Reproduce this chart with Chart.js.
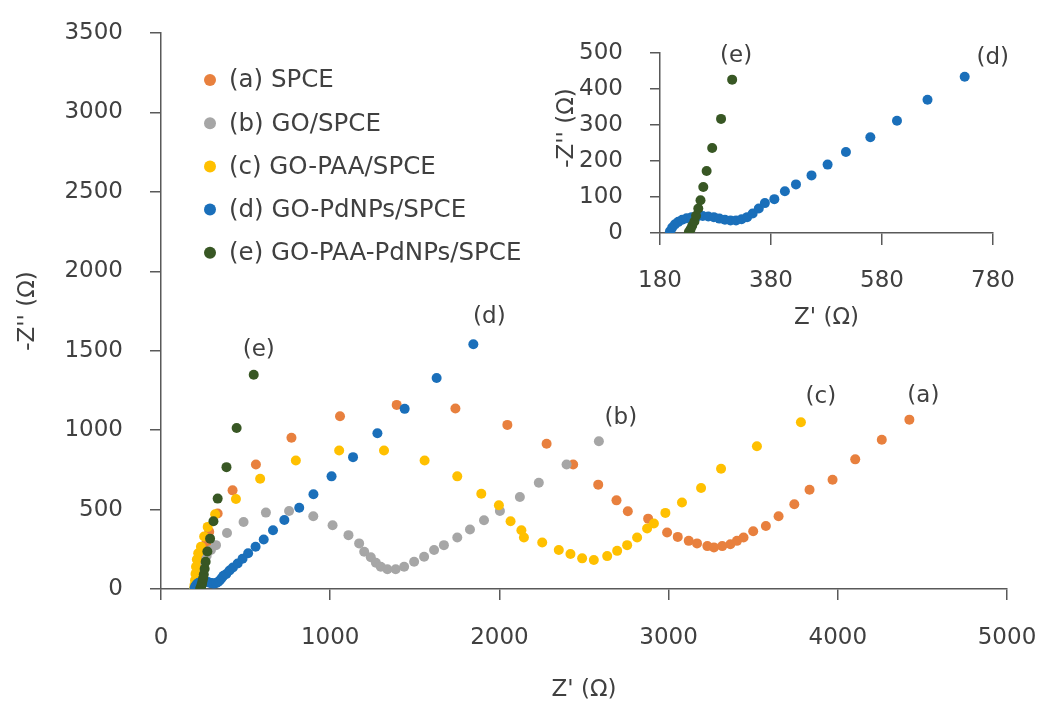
<!DOCTYPE html>
<html>
  <head>
    <title>Nyquist plot</title>
    <script src="https://cdn.jsdelivr.net/npm/chart.js@4.4.1/dist/chart.umd.min.js"></script>
    <style>
    body{
    	margin: 0;
    	background-color: white;
    }
    #wrap{ position: relative; width: 1043px; height: 715px; }
    #main{ position: absolute; left: 0; top: 0; }
    #inset{ position: absolute; left: 530px; top: 0; }
  	</style>
  </head>
  <body>

    <div id="wrap">
      <canvas id="main" width="1043" height="715"></canvas>
      <canvas id="inset" width="490" height="335"></canvas>
    </div>

  <script type="text/javascript">

  // series values, Z' and -Z'' in ohm
  var labels = ["(a) SPCE", "(b) GO/SPCE", "(c) GO-PAA/SPCE", "(d) GO-PdNPs/SPCE", "(e) GO-PAA-PdNPs/SPCE"];
  var tags = ["(a)", "(b)", "(c)", "(d)", "(e)"];
  var colors = ["#E8803E", "#A6A6A6", "#FFC000", "#1A6FBA", "#385724"];

  var a_x = [200, 204, 210, 218, 228, 240, 254, 268, 285, 335, 423, 561, 771, 1058, 1393, 1740, 2047, 2279, 2436, 2584, 2692, 2759, 2879, 2991, 3054, 3119, 3168, 3229, 3268, 3317, 3365, 3404, 3443, 3500, 3575, 3650, 3743, 3833, 3969, 4103, 4260, 4423];
  var a_y = [3, 25, 55, 90, 130, 175, 225, 290, 360, 475, 621, 784, 952, 1087, 1159, 1136, 1033, 914, 784, 657, 558, 489, 443, 356, 328, 303, 287, 270, 262, 270, 282, 303, 324, 364, 397, 458, 533, 625, 688, 816, 939, 1066];

  var b_x = [205, 210, 217, 226, 238, 252, 270, 295, 325, 390, 488, 620, 757, 900, 1014, 1108, 1171, 1201, 1240, 1270, 1299, 1338, 1387, 1437, 1496, 1555, 1614, 1672, 1751, 1826, 1909, 2003, 2121, 2233, 2397, 2588];
  var b_y = [3, 25, 55, 90, 130, 170, 210, 245, 276, 353, 422, 481, 491, 458, 401, 339, 287, 234, 200, 165, 140, 124, 124, 140, 171, 203, 245, 276, 324, 374, 433, 491, 579, 669, 784, 930];

  var c_x = [195, 198, 201, 204, 207, 212, 220, 236, 255, 276, 320, 443, 586, 797, 1053, 1318, 1558, 1751, 1893, 1997, 2066, 2130, 2145, 2253, 2351, 2420, 2489, 2558, 2637, 2696, 2755, 2814, 2873, 2913, 2981, 3079, 3192, 3310, 3522, 3782];
  var c_y = [3, 25, 55, 95, 140, 185, 225, 266, 330, 391, 470, 567, 694, 809, 872, 872, 809, 709, 600, 527, 427, 370, 324, 293, 245, 220, 193, 182, 207, 240, 276, 324, 381, 412, 479, 544, 636, 757, 899, 1050];

  var d_x = [198, 202, 207, 213, 220, 228, 237, 247, 257, 267, 277, 287, 297, 307, 317, 327, 337, 347, 358, 369, 386, 405, 425, 453, 482, 515, 559, 607, 662, 729, 817, 901, 1008, 1135, 1279, 1440, 1629, 1846];
  var d_y = [5, 15, 24, 31, 37, 41, 44, 46, 47, 46, 44, 40, 37, 35, 35, 38, 44, 54, 68, 83, 94, 116, 135, 160, 190, 225, 266, 312, 370, 434, 512, 596, 709, 830, 981, 1134, 1328, 1541];

  var e_x = [232, 235, 238, 242, 245, 249, 253, 258, 264, 274, 290, 310, 335, 387, 447, 548];
  var e_y = [3, 10, 20, 32, 48, 68, 91, 128, 172, 236, 317, 426, 569, 767, 1014, 1349];

  // axis ticks: min, max, step
  var mainXTicks = [0, 5000, 1000];
  var mainYTicks = [0, 3500, 500];
  var insetXTicks = [180, 780, 200];
  var insetYTicks = [0, 500, 100];

  var allX = [a_x, b_x, c_x, d_x, e_x];
  var allY = [a_y, b_y, c_y, d_y, e_y];

  var FONT = "'DejaVu Sans', sans-serif";
  var INK = "#404040";
  var AXIS = "#595959";
  Chart.defaults.font.family = FONT;
  Chart.defaults.color = INK;

  function points(xs, ys, xr, yr){
    var out = [];
    for (var i = 0; i < xs.length; i++){
      if (xr && (xs[i] < xr[0] || xs[i] > xr[1] || ys[i] < yr[0] || ys[i] > yr[1])) continue;
      out.push({x: xs[i], y: ys[i]});
    }
    return out;
  }

  function makeSets(which, xr, yr){
    return which.map(function(i){
      return {
        label: labels[i],
        tag: tags[i],
        data: points(allX[i], allY[i], xr, yr),
        backgroundColor: colors[i],
        borderWidth: 0,
        pointRadius: 5,
        pointHoverRadius: 5,
        order: 5 - i
      };
    });
  }

  // writes (a)..(e) next to the last point of each series
  var tagPlugin = {
    id: 'tags',
    afterDatasetsDraw: function(chart, args, opts){
      var ctx = chart.ctx;
      ctx.save();
      ctx.font = "23px " + FONT;
      ctx.fillStyle = INK;
      ctx.textAlign = 'center';
      ctx.textBaseline = 'middle';
      chart.data.datasets.forEach(function(ds, i){
        var meta = chart.getDatasetMeta(i);
        var pt = meta.data[meta.data.length - 1];
        var off = opts.offsets[i];
        ctx.fillText(ds.tag, pt.x + off[0], pt.y + off[1]);
      });
      ctx.restore();
    }
  };

  // legend inside the plot, top left
  var legendPlugin = {
    id: 'boxLegend',
    afterDraw: function(chart, args, opts){
      var ctx = chart.ctx;
      ctx.save();
      ctx.font = "24.5px " + FONT;
      ctx.textBaseline = 'middle';
      ctx.textAlign = 'left';
      chart.data.datasets.forEach(function(ds, i){
        var y = opts.y + i * opts.step;
        ctx.fillStyle = ds.backgroundColor;
        ctx.beginPath();
        ctx.arc(opts.x, y, 6, 0, Math.PI * 2);
        ctx.fill();
        ctx.fillStyle = INK;
        ctx.fillText(ds.label, opts.x + 19, y + 1);
      });
      ctx.restore();
    }
  };

  // inset y title sits a bit above the middle of its axis
  var sideTitlePlugin = {
    id: 'sideTitle',
    afterDraw: function(chart, args, opts){
      var ctx = chart.ctx;
      ctx.save();
      ctx.font = "23px " + FONT;
      ctx.fillStyle = INK;
      ctx.textAlign = 'center';
      ctx.textBaseline = 'middle';
      ctx.translate(opts.x, opts.y);
      ctx.rotate(-Math.PI / 2);
      ctx.fillText(opts.text, 0, 0);
      ctx.restore();
    }
  };

  function axis(ticks, title, titlePad, tickLen, tickPad, fixed, horiz){
    return {
      type: 'linear',
      min: ticks[0],
      max: ticks[1],
      border: { display: true, color: AXIS, width: 1.5 },
      grid: { display: true, drawOnChartArea: false, drawTicks: true, tickLength: tickLen, color: AXIS, lineWidth: 1.5 },
      ticks: {
        stepSize: ticks[2], padding: tickPad, font: { size: 23 }, color: INK,
        callback: function(v){ return String(v); }
      },
      title: { display: !!title, text: title, font: { size: 23 }, color: INK, padding: titlePad },
      afterFit: function(scale){
        if (horiz) scale.height = fixed; else scale.width = fixed;
        // let the layout padding alone decide the plot edges
        scale.paddingTop = 0; scale.paddingBottom = 0;
        scale.paddingLeft = 0; scale.paddingRight = 0;
      }
    };
  }

  new Chart(document.getElementById('main').getContext('2d'), {
    type: 'scatter',
    data: { datasets: makeSets([0, 1, 2, 3, 4]) },
    options: {
      responsive: false,
      animation: false,
      layout: { padding: { top: 33, right: 36, left: 0, bottom: 0 } },
      scales: {
        x: axis(mainXTicks, "Z' (\u03A9)", { top: 0, bottom: 11 }, 11, 24, 126, true),
        y: axis(mainYTicks, "-Z'' (\u03A9)", { top: 14, bottom: 0 }, 11, 27, 161, false)
      },
      plugins: {
        legend: { display: false },
        tooltip: { enabled: false },
        tags: { offsets: [[14, -24], [22, -23], [20, -25], [16, -27], [5, -25]] },
        boxLegend: { x: 210, y: 80, step: 43.2 }
      }
    },
    plugins: [tagPlugin, legendPlugin]
  });

  new Chart(document.getElementById('inset').getContext('2d'), {
    type: 'scatter',
    data: { datasets: makeSets([3, 4], [insetXTicks[0], insetXTicks[1]], [insetYTicks[0], insetYTicks[1]]) },
    options: {
      responsive: false,
      animation: false,
      layout: { padding: { top: 53, right: 27, left: 0, bottom: 0 } },
      scales: {
        x: axis(insetXTicks, "Z' (\u03A9)", { top: 0, bottom: 3 }, 12, 22, 102, true),
        y: axis(insetYTicks, "", { top: 0, bottom: 0 }, 10, 27, 130, false)
      },
      plugins: {
        legend: { display: false },
        tooltip: { enabled: false },
        tags: { offsets: [[28, -19], [4, -24]] },
        sideTitle: { text: "-Z'' (\u03A9)", x: 37, y: 128 }
      }
    },
    plugins: [tagPlugin, sideTitlePlugin]
  });

  </script>
  </body>
</html>
